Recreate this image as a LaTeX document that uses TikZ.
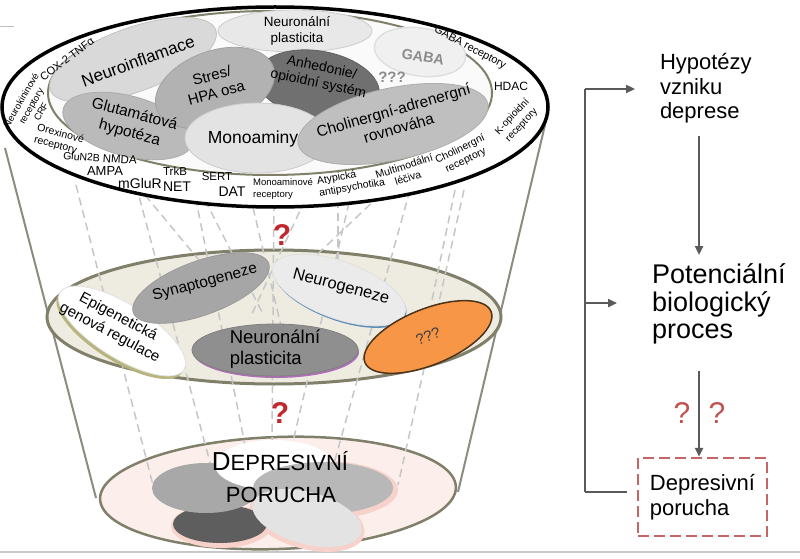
\documentclass[tikz,border=0pt]{standalone}
\usepackage{fontspec}
\setmainfont{Liberation Sans}
\usetikzlibrary{shapes.geometric,arrows.meta}
\definecolor{conecol}{HTML}{8C8C7E}
\definecolor{webcol}{HTML}{C6C6C6}
\definecolor{rimcol}{HTML}{7F7F6A}
\definecolor{beigefill}{HTML}{EEECE1}
\definecolor{pinkfill}{HTML}{FCEFEB}
\definecolor{pinkglow}{HTML}{F6D2CB}
\definecolor{qred}{HTML}{C0282D}
\definecolor{qredtwo}{HTML}{C0504D}
\definecolor{boxred}{HTML}{C66565}
\definecolor{flowgray}{HTML}{5A5A5A}
\definecolor{orangeb}{HTML}{F79646}
\definecolor{violetedge}{HTML}{B070B8}
\definecolor{blueedge}{HTML}{5B8DB8}
\definecolor{epiedge}{HTML}{B8B47E}
\newcommand{\myfs}[2]{\fontsize{#1}{#2}\selectfont}
\tikzset{
  blob/.style={ellipse, inner sep=0pt, outer sep=0pt, line width=0.8pt},
  txt/.style={inner sep=0pt, outer sep=0pt, align=center},
  lab/.style={inner sep=0pt, outer sep=0pt, align=center},
  cone/.style={draw=conecol, line width=2pt},
  web/.style={draw=webcol, line width=1.5pt, dash pattern=on 8pt off 5pt},
  flow/.style={draw=flowgray, line width=2.5pt},
  flowarrow/.style={flow, -{Triangle[length=9pt,width=8pt]}},
  dbox/.style={draw=boxred, line width=2.5pt, dash pattern=on 11pt off 5pt, inner sep=0pt},
}
\begin{document}
\begin{tikzpicture}[x=1pt,y=-1pt]
\useasboundingbox (0,0) rectangle (800,559);

% faint edge lines
\coordinate (g1) at (0,552); \coordinate (g2) at (800,552);
\draw[draw=black!22, line width=1.5pt] (g1) -- (g2);
\coordinate (g3) at (0,27); \coordinate (g4) at (14,27);
\draw[draw=black!25, line width=1pt] (g3) -- (g4);

% cone sides
\coordinate (cl1) at (5,148); \coordinate (cl2) at (96,498);
\coordinate (cr1) at (545,125); \coordinate (cr2) at (458,492);
\draw[cone] (cl1) -- (cl2);
\draw[cone] (cr1) -- (cr2);

% bottom and middle plates
\node[ellipse, minimum width=356pt, minimum height=112pt, rotate=2, fill=pinkfill, draw=rimcol, line width=2.5pt] (bot) at (278,493) {};
\node[ellipse, minimum width=454pt, minimum height=134pt, fill=beigefill, draw=rimcol, line width=3pt] (midell) at (274,317) {};

% dashed web
\foreach \i/\a/\b/\c/\d in {1/76/185/153/485, 2/136/185/216/485, 3/193/185/253/485,
  4/274/190/272/440, 5/352/190/284/480, 6/410/190/328/485, 7/464/190/398/485,
  8/205/200/262/312, 9/250/195/282/330, 10/305/200/250/318, 11/380/195/285/285,
  12/145/195/232/300, 13/455/190/432/300, 14/338/200/338/290}{
  \coordinate (wa\i) at (\a,\b); \coordinate (wb\i) at (\c,\d);
  \draw[web] (wa\i) -- (wb\i);
}

% middle blobs
\node[blob, minimum width=146pt, minimum height=54pt, rotate=-32, fill=epiedge, draw=none] (epis) at (120,334) {};
\node[blob, minimum width=146pt, minimum height=54pt, rotate=-32, fill=white, draw=black!12] (epi) at (122,331) {};
\node[blob, minimum width=144pt, minimum height=54pt, rotate=20, fill=black!35, draw=black!40] (syn) at (201,288) {};
\node[blob, minimum width=140pt, minimum height=57pt, rotate=-20, fill=blueedge, draw=none] (neus) at (340,292) {};
\node[blob, minimum width=140pt, minimum height=57pt, rotate=-20, fill=black!8, draw=black!12] (neu) at (339,290) {};
\node[blob, minimum width=166pt, minimum height=52pt, fill=violetedge, draw=none] (npms) at (276,352) {};
\node[blob, minimum width=166pt, minimum height=52pt, fill=black!44, draw=black!50] (npm) at (275,350) {};
\node[blob, minimum width=136pt, minimum height=56pt, rotate=22, fill=orangeb, draw=black!60!brown, line width=1.5pt] (org) at (428,337) {};

\node[txt, rotate=15, font=\myfs{15.5}{18}] (tsyn) at (205,283) {Synaptogeneze};
\node[txt, rotate=-15, font=\myfs{16.5}{19}] (tneu) at (341,287) {Neurogeneze};
\node[txt, rotate=-28, font=\myfs{15}{18}] (tepi) at (114,325) {Epigenetická\\genová regulace};
\node[txt, align=left, font=\myfs{18.5}{20.5}] (tnpm) at (275,349) {Neuronální\\plasticita};
\node[txt, rotate=20, font=\myfs{15}{17}, text=black!75] (torg) at (428,336) {???};

% bottom blobs
\node[blob, minimum width=100pt, minimum height=44pt, fill=pinkglow, draw=none] (gdk) at (221,526) {};
\node[blob, minimum width=148pt, minimum height=58pt, fill=pinkglow, draw=none] (grg) at (324,490) {};
\node[blob, minimum width=118pt, minimum height=58pt, rotate=-15, fill=pinkglow, draw=none] (gvl) at (307,520) {};
\node[blob, minimum width=94pt, minimum height=38pt, fill=black!63, draw=none] (bdk) at (220,524) {};
\node[blob, minimum width=108pt, minimum height=50pt, fill=black!34, draw=none] (blg) at (206,488) {};
\node[blob, minimum width=118pt, minimum height=50pt, fill=white, draw=none] (bwh) at (274,465) {};
\node[blob, minimum width=140pt, minimum height=52pt, fill=black!28, draw=none] (brg) at (323,488) {};
\node[blob, minimum width=112pt, minimum height=52pt, rotate=-15, fill=black!11, draw=none] (bvl) at (307,518) {};
\node[anchor=base, inner sep=0pt] (dep1) at (280,470) {\myfs{26}{26}D\myfs{22}{22}EPRESIVNÍ};
\node[anchor=base, inner sep=0pt] (dep2) at (281,502) {\myfs{22}{22}PORUCHA};

% top plate
\node[ellipse, minimum width=546pt, minimum height=200pt, fill=white, draw=black, line width=3.5pt] (outer) at (275,107) {};
\node[ellipse, minimum width=444pt, minimum height=164pt, fill=black!2, draw=rimcol, line width=2pt] (inner) at (270,93) {};

% top blobs
\node[blob, minimum width=154pt, minimum height=42pt, fill=black!9, draw=black!20] (npl) at (295,31) {};
\node[blob, minimum width=92pt, minimum height=48pt, rotate=-8, fill=blue!3!black!6, draw=cyan!15!black!15, line width=1.5pt] (gab) at (420,52) {};
\node[blob, minimum width=176pt, minimum height=64pt, rotate=20, fill=black!15, draw=black!24] (nin) at (133,60) {};
\node[blob, minimum width=134pt, minimum height=60pt, rotate=-15, fill=black!27, draw=black!33] (glu) at (128,126) {};
\node[blob, minimum width=124pt, minimum height=68pt, rotate=-10, fill=black!56, draw=black!62] (anh) at (318,85) {};
\node[blob, minimum width=124pt, minimum height=74pt, rotate=20, fill=black!30, draw=black!37] (str) at (215,88) {};
\node[blob, minimum width=144pt, minimum height=70pt, fill=black!11, draw=black!20] (mon) at (257,138) {};
\node[blob, minimum width=194pt, minimum height=72pt, rotate=12, fill=black!25, draw=black!32] (cho) at (393,124) {};

\node[txt, font=\myfs{13.5}{16.5}] (tnpl) at (297,31) {Neuronální\\plasticita};
\node[txt, rotate=-10, font=\bfseries\myfs{14.5}{16}, text=black!45] (tgab) at (423,57) {GABA};
\node[txt, font=\bfseries\myfs{15}{16}, text=black!45] (tq3) at (392,77) {???};
\node[txt, rotate=20, font=\myfs{17}{19}] (tnin) at (138,61) {Neuroinflamace};
\node[txt, rotate=15, font=\myfs{15}{17.5}] (tstr) at (214,84) {Stres/\\HPA osa};
\node[txt, rotate=-15, font=\myfs{15.5}{19}] (tglu) at (132,124) {Glutamátová\\hypotéza};
\node[txt, rotate=-12, font=\myfs{14}{16.5}] (tanh) at (320,76) {Anhedonie/\\opioidní systém};
\node[txt, font=\myfs{17.5}{19}] (tmon) at (253,139) {Monoaminy};
\node[txt, rotate=16, font=\myfs{15.5}{18.5}] (tcho) at (396,119) {Cholinergní-adrenergní\\rovnováha};

% band labels
\node[lab, rotate=37, font=\myfs{11}{12}] (lcox) at (67,59) {COX-2 TNFα};
\node[lab, rotate=60, font=\myfs{9.5}{11.5}] (lneu) at (31,106) {Neurokininové\\receptory\\CRF};
\node[lab, rotate=-15, align=left, font=\myfs{10.5}{12}] (lorx) at (59,140) {Orexinové\\receptory};
\node[lab, rotate=-4] (lglun) at (100,158) {\myfs{10.5}{11}GluN2B \myfs{11.5}{12}NMDA};
\node[lab, font=\myfs{13}{14}] (lampa) at (105,171) {AMPA};
\node[lab, font=\myfs{14}{15}] (lmglu) at (140,183) {mGluR};
\node[lab, font=\myfs{11.5}{12}] (ltrkb) at (175,171) {TrkB};
\node[lab, font=\myfs{14}{15}] (lnet) at (177,187) {NET};
\node[lab, font=\myfs{11.5}{12}] (lsert) at (217,177) {SERT};
\node[lab, font=\myfs{14}{15}] (ldat) at (232,192) {DAT};
\node[lab, align=left, font=\myfs{9.5}{11.5}] (lmonr) at (283,189) {Monoaminové\\receptory};
\node[lab, align=left, rotate=10, font=\myfs{10.5}{12.5}] (latyp) at (351,182) {Atypická\\antipsychotika};
\node[lab, rotate=18, font=\myfs{10.5}{12.5}] (lmult) at (406,172) {Multimodální\\léčiva};
\node[lab, rotate=26, font=\myfs{10.5}{12.5}] (lchr) at (463,155) {Cholinergní\\receptory};
\node[lab, rotate=47, font=\myfs{10}{12.5}] (lkop) at (517,121) {K-opioidní\\receptory};
\node[lab, font=\myfs{12}{13}] (lhdac) at (511,86) {HDAC};
\node[lab, rotate=-28, font=\myfs{11}{12}] (lgabr) at (470,48) {GABA receptory};

% question marks in cone
\node[txt, text=qred, font=\bfseries\myfs{30}{30}] (qa) at (282,235) {?};
\node[txt, text=qred, font=\bfseries\myfs{30}{30}] (qb) at (280,413) {?};

% right flow
\node[txt, anchor=north west, align=left, font=\myfs{22}{24.5}] (hyp) at (660,53.5) {Hypotézy\\vzniku\\deprese};
\node[txt, anchor=north west, align=left, font=\myfs{27}{27.5}] (pot) at (652,264) {Potenciální\\biologický\\proces};
\node[dbox, minimum width=129pt, minimum height=78pt, align=left, font=\myfs{22}{25}] (dp) at (702.5,497) {Depresivní\\porucha};
\coordinate (ax) at (699,0);
\coordinate (lt) at (585,89); \coordinate (lm) at (585,303); \coordinate (lb) at (585,492);
\draw[flow] (lt) -- (lb);
\draw[flowarrow, shorten >=25pt] (lt) -- (hyp.west |- lt);
\draw[flowarrow, shorten >=35pt] (lm) -- (pot.west |- lm);
\draw[flow, shorten >=10pt] (lb) -- (dp.west |- lb);
\draw[flowarrow, shorten <=13pt, shorten >=9pt] (hyp.south -| ax) -- (pot.north -| ax);
\draw[flowarrow, shorten <=27pt] (pot.south -| ax) -- (dp.north -| ax);
\node[txt, text=qredtwo, font=\myfs{30}{30}] (qc) at (682,413) {?};
\node[txt, text=qredtwo, font=\myfs{30}{30}] (qd) at (717,413) {?};
\end{tikzpicture}
\end{document}
